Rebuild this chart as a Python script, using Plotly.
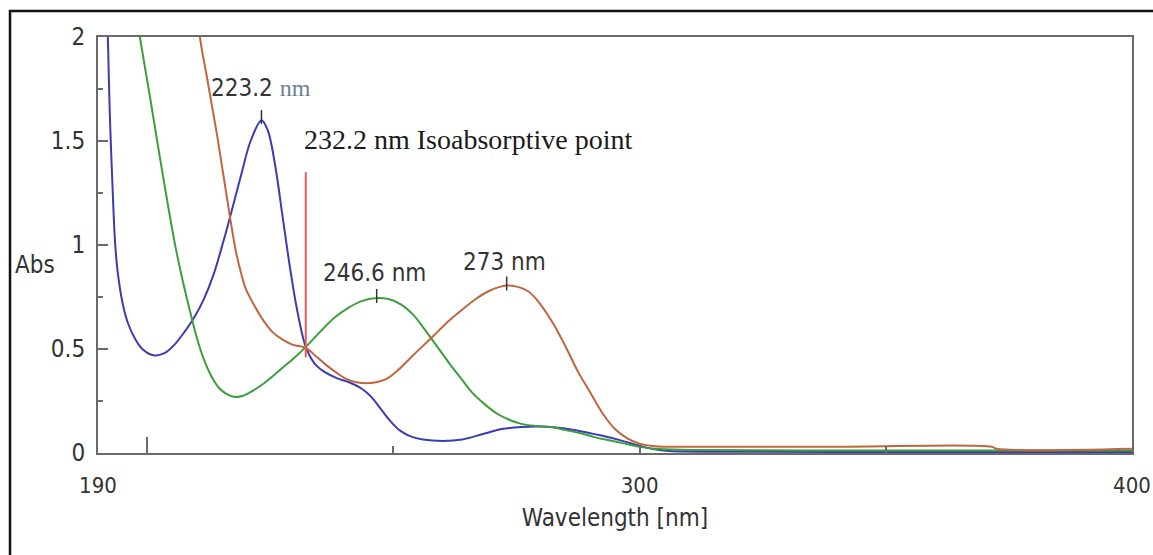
import plotly.graph_objects as go

# ---- data ----
BLUE_X = [191.6, 192.0, 192.4, 193.0, 193.5, 194.0, 195.0, 196.0, 197.5, 199.0, 201.2, 203.5,
          205.5, 207.5, 209.5, 211.5, 213.5, 215.5, 217.0, 219.0, 221.0, 223.2, 224.5, 226.0,
          227.5, 229.0, 230.5, 232.2, 234.0, 236.0, 238.5, 241.0, 243.5, 245.5, 247.5, 249.5,
          251.5, 253.5, 256.0, 260.0, 264.0, 268.0, 272.0, 276.0, 280.0, 284.0, 288.0, 292.0,
          296.0, 300.0, 303.0, 306.0, 320.0, 350.0, 380.0, 400.0]
BLUE_Y = [2.3, 2.0, 1.63, 1.25, 1.0, 0.87, 0.72, 0.63, 0.55, 0.50, 0.47, 0.48,
          0.52, 0.58, 0.65, 0.74, 0.86, 1.02, 1.15, 1.33, 1.50, 1.60, 1.55, 1.38,
          1.135, 0.89, 0.68, 0.51, 0.43, 0.39, 0.36, 0.34, 0.31, 0.27, 0.21, 0.15,
          0.105, 0.08, 0.065, 0.058, 0.065, 0.09, 0.115, 0.125, 0.127, 0.12, 0.105, 0.085,
          0.062, 0.035, 0.018, 0.01, 0.006, 0.005, 0.005, 0.005]

GREEN_X = [198.0, 198.5, 200.5, 203.0, 205.5, 207.0, 208.5, 210.0, 211.5, 213.0, 214.5, 216.0,
           217.6, 219.5, 221.5, 224.0, 227.0, 230.0, 232.2, 235.0, 238.0, 241.0, 243.5, 246.6,
           249.0, 251.5, 254.0, 256.0, 258.0, 260.0, 262.0, 264.0, 266.0, 268.5, 271.0, 273.5,
           276.0, 279.0, 282.0, 285.0, 288.0, 291.0, 294.0, 297.0, 300.0, 303.0, 310.0, 350.0,
           380.0, 400.0]
GREEN_Y = [2.08, 2.0, 1.72, 1.36, 1.02, 0.85, 0.70, 0.56, 0.45, 0.37, 0.315, 0.285,
           0.27, 0.275, 0.30, 0.34, 0.40, 0.46, 0.51, 0.58, 0.65, 0.70, 0.73, 0.745,
           0.74, 0.715, 0.665, 0.605, 0.54, 0.475, 0.41, 0.35, 0.29, 0.235, 0.19, 0.16,
           0.14, 0.13, 0.125, 0.11, 0.095, 0.075, 0.06, 0.045, 0.03, 0.02, 0.015, 0.012,
           0.012, 0.012]

ORANGE_X = [210.2, 210.7, 212.1, 214.1, 216.8, 218.0, 219.0, 220.0, 221.5, 223.5, 225.5, 227.5,
            229.6, 232.2, 234.5, 236.5, 238.5, 240.5, 242.5, 244.5, 246.5, 248.5, 251.0, 254.0,
            258.0, 261.0, 264.0, 267.0, 269.5, 273.0, 275.0, 277.5, 280.0, 282.5, 285.0, 287.5,
            290.0, 292.5, 295.0, 297.5, 300.0, 303.0, 310.0, 340.0, 371.5, 372.5, 400.0]
ORANGE_Y = [2.15, 2.0, 1.81, 1.54, 1.135, 0.97, 0.87, 0.79, 0.72, 0.64, 0.58, 0.545,
            0.52, 0.505, 0.46, 0.42, 0.385, 0.355, 0.34, 0.335, 0.34, 0.355, 0.40, 0.47,
            0.56, 0.63, 0.69, 0.745, 0.78, 0.805, 0.80, 0.775, 0.71, 0.62, 0.51, 0.39,
            0.29, 0.19, 0.115, 0.07, 0.045, 0.033, 0.03, 0.03, 0.03, 0.02, 0.02]

ISO_X = [232.2, 232.2]
ISO_Y = [0.46, 1.35]

PEAK_X = [223.2, 246.6, 273.0]
PEAK_Y = [1.615, 0.755, 0.815]

X_TICKS = [190, 200, 250, 300, 350, 400]
X_TICK_TEXT = ["190", "", "", "300", "", "400"]
Y_TICKS = [0, 0.5, 1, 1.5, 2]
Y_TICK_TEXT = ["0", "0.5", "1", "1.5", "2"]

NARROW = "Liberation Sans Narrow, Arial Narrow, DejaVu Sans Condensed, Liberation Sans, sans-serif"
SERIF = "Liberation Serif, Times New Roman, serif"
TXT = "#333333"
AX = "#6a6a6a"

fig = go.Figure()
line_common = dict(width=2, shape="spline", smoothing=1.0)
fig.add_trace(go.Scatter(x=BLUE_X, y=BLUE_Y, mode="lines",
                         line=dict(color="#3b3bb3", **line_common)))
fig.add_trace(go.Scatter(x=GREEN_X, y=GREEN_Y, mode="lines",
                         line=dict(color="#3c9f3c", **line_common)))
fig.add_trace(go.Scatter(x=ORANGE_X, y=ORANGE_Y, mode="lines",
                         line=dict(color="#c0653f", **line_common)))
fig.add_trace(go.Scatter(x=ISO_X, y=ISO_Y, mode="lines",
                         line=dict(color="#f0585a", width=2)))
fig.add_trace(go.Scatter(x=PEAK_X, y=PEAK_Y, mode="markers",
                         marker=dict(symbol="line-ns", size=10,
                                     line=dict(color="#333333", width=1.5))))

ann_font = dict(family=NARROW, size=24, color=TXT)
fig.add_annotation(x=223.2, y=1.755, xref="x", yref="y", showarrow=False,
                   text="223.2 <span style='font-family:Liberation Serif, serif;font-size:24px;color:#6f7f96'>nm</span>",
                   font=ann_font, xanchor="center", yanchor="middle")
fig.add_annotation(x=231.4, y=1.505, xref="x", yref="y", showarrow=False,
                   text="232.2 nm Isoabsorptive point",
                   font=dict(family=SERIF, size=28, color="#1a1a1a"),
                   xanchor="left", yanchor="middle")
fig.add_annotation(x=246.2, y=0.865, xref="x", yref="y", showarrow=False,
                   text="246.6 nm", font=ann_font, xanchor="center", yanchor="middle")
fig.add_annotation(x=272.6, y=0.918, xref="x", yref="y", showarrow=False,
                   text="273 nm", font=ann_font, xanchor="center", yanchor="middle")
fig.add_annotation(x=-0.082, y=0.452, xref="paper", yref="paper", showarrow=False,
                   text="Abs", font=dict(family=NARROW, size=24, color=TXT),
                   xanchor="left", yanchor="middle")

# outer frame (left and top edges of the picture border)
fig.add_shape(type="path", xref="paper", yref="paper",
              path="M -0.0851,-0.3 L -0.0851,1.0625 L 1.05,1.0625",
              line=dict(color="#111111", width=2.5))

fig.update_layout(
    width=1153, height=555,
    margin=dict(l=98, r=21, t=37, b=102),
    paper_bgcolor="white", plot_bgcolor="white",
    showlegend=False,
    xaxis=dict(range=[190, 400], tickmode="array", tickvals=X_TICKS, ticktext=X_TICK_TEXT,
               ticks="inside", ticklen=7, tickwidth=1.5, tickcolor=AX,
               minor=dict(tickmode="array", tickvals=[200], ticks="inside", ticklen=16,
                          tickwidth=2, tickcolor=AX),
               showgrid=False, zeroline=False, showline=True, linecolor=AX, linewidth=2,
               mirror=True, ticklabelstandoff=12, ticklabeloverflow="allow", automargin=False,
               tickfont=dict(family=NARROW, size=22, color=TXT),
               title=dict(text="Wavelength [nm]", font=dict(family=NARROW, size=24, color=TXT),
                          standoff=12)),
    yaxis=dict(range=[0, 2], tickmode="array", tickvals=Y_TICKS, ticktext=Y_TICK_TEXT,
               ticks="inside", ticklen=10, tickwidth=1.5, tickcolor=AX,
               minor=dict(tickmode="array", tickvals=[0.25, 0.75, 1.25, 1.75], ticks="inside",
                          ticklen=5, tickwidth=1.5, tickcolor=AX),
               showgrid=False, zeroline=False, showline=True, linecolor=AX, linewidth=2,
               mirror=True, ticklabelstandoff=6, automargin=False,
               tickfont=dict(family=NARROW, size=24, color=TXT)),
)

fig.write_html("out.html")
